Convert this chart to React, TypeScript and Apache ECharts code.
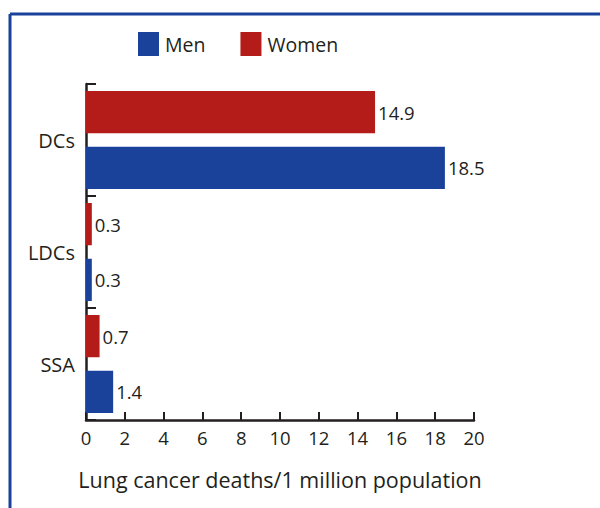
import React, { useEffect, useRef } from "react";
import * as echarts from "echarts";

const categories = ["SSA", "LDCs", "DCs"];
const menValues = [1.4, 0.3, 18.5];
const womenValues = [0.7, 0.3, 14.9];
const xTicks = { min: 0, max: 20, interval: 2 };

const BLUE = "#1b429b";
const RED = "#b41c19";
const INK = "#231f20";
const FONT = "'Open Sans', 'Noto Sans', sans-serif";

export default function App() {
  const ref = useRef<HTMLDivElement>(null);
  useEffect(() => {
    if (!ref.current) return;
    const chart = echarts.init(ref.current, null, { renderer: "svg" });
    const labelStyle = {
      show: true,
      position: "right",
      distance: 3,
      color: INK,
      fontSize: 18.5,
      fontFamily: FONT,
    };
    chart.setOption({
      animation: false,
      textStyle: { fontFamily: FONT },
      legend: {
        left: 133,
        top: 27,
        itemWidth: 21,
        itemHeight: 24,
        itemGap: 35,
        icon: "rect",
        textStyle: { color: INK, fontSize: 19.5, fontFamily: FONT, padding: [0, 0, 0, 1] },
        data: ["Men", "Women"],
      },
      grid: { left: 86, right: 126, top: 84, bottom: 88, containLabel: false },
      xAxis: {
        type: "value",
        min: xTicks.min,
        max: xTicks.max,
        interval: xTicks.interval,
        name: "Lung cancer deaths/1 million population",
        nameLocation: "middle",
        nameGap: 48,
        nameTextStyle: { color: INK, fontSize: 21.5, fontFamily: FONT },
        axisLine: { show: true, lineStyle: { color: INK, width: 2.5 } },
        axisTick: { show: true, inside: true, length: 8, lineStyle: { color: INK, width: 2 } },
        axisLabel: { color: INK, fontSize: 18.5, margin: 8, fontFamily: FONT },
        splitLine: { show: false },
      },
      yAxis: {
        type: "category",
        data: categories,
        axisLine: { show: true, lineStyle: { color: INK, width: 2.5 } },
        axisTick: { show: true, inside: true, length: 10, lineStyle: { color: INK, width: 2 } },
        axisLabel: { color: INK, fontSize: 20, margin: 11, fontFamily: FONT },
      },
      series: [
        {
          name: "Women",
          type: "bar",
          data: womenValues,
          itemStyle: { color: RED },
          barGap: "32%",
          barCategoryGap: "12.5%",
          label: labelStyle,
        },
        {
          name: "Men",
          type: "bar",
          data: menValues,
          itemStyle: { color: BLUE },
          barGap: "32%",
          barCategoryGap: "12.5%",
          label: labelStyle,
        },
      ],
      graphic: [
        { type: "line", shape: { x1: 10, y1: 14, x2: 600, y2: 14 }, style: { stroke: BLUE, lineWidth: 3 } },
        { type: "line", shape: { x1: 10, y1: 14, x2: 10, y2: 508 }, style: { stroke: BLUE, lineWidth: 3 } },
      ],
    });
    return () => chart.dispose();
  }, []);
  return (
    <div
      ref={ref}
      style={{ position: "fixed", left: 0, top: 0, width: 600, height: 508, background: "#fff" }}
    />
  );
}
